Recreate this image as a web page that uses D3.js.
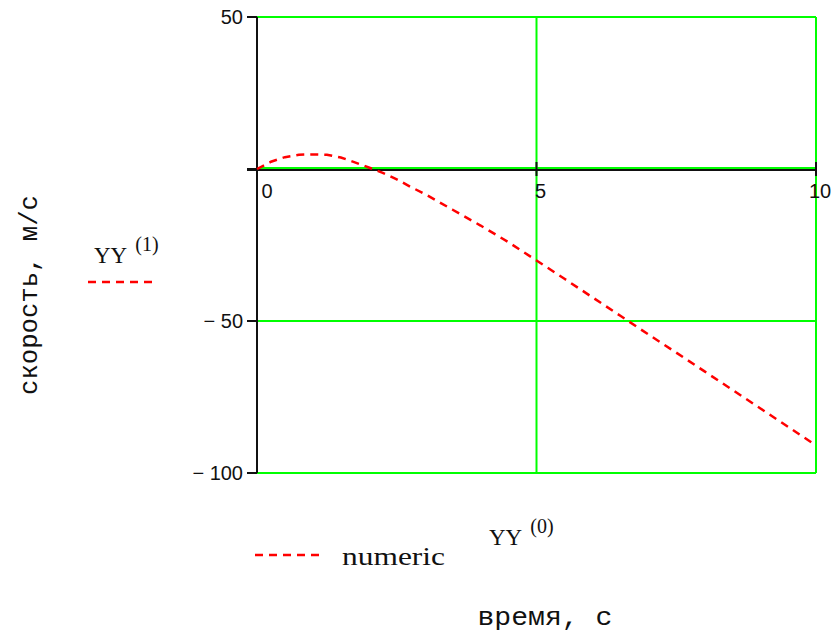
<!DOCTYPE html>
<html>
<head>
<meta charset="utf-8">
<script src="https://cdn.jsdelivr.net/npm/d3@7"></script>
<style>
  body { margin: 0; background: #fff; }
  svg { display: block; }
</style>
</head>
<body>
<svg id="chart" width="833" height="632"></svg>
<script>
// Data: time (s) and velocity (m/s)
const timeVals = [0, 0.25, 0.5, 0.75, 1.0, 1.25, 1.5, 1.75, 2.0, 2.25, 2.5, 2.75, 3.0,
  3.5, 4.0, 4.5, 5.0, 5.5, 6.0, 6.5, 7.0, 7.5, 8.0, 8.5, 9.0, 9.5, 10.0];
const speedVals = [0, 2.4, 3.9, 4.7, 4.8, 4.7, 3.8, 2.2, 0.5, -1.3, -3.4, -5.9, -8.2,
  -13.4, -18.6, -24.1, -30.1, -36.1, -42.2, -48.3, -54.4, -60.4, -66.5, -72.6, -78.7, -84.8, -90.9];

const xTicks = [0, 5, 10];
const yTicks = [50, 0, -50, -100];
const yTickLabels = ["50", "0", "\u2212 50", "\u2212 100"];

const green = "#00ff00";
const red = "#ff0000";

const svg = d3.select("#chart");

// Scales
const x = d3.scaleLinear().domain([0, 10]).range([257, 816]);
const y = d3.scaleLinear().domain([-100, 50]).range([473, 17]);

// green grid + frame
const grid = svg.append("g").attr("stroke", green).attr("stroke-width", 2);
grid.selectAll(".hgrid")
  .data(yTicks)
  .enter().append("line")
    .attr("x1", x(0)).attr("x2", x(10))
    .attr("y1", d => y(d) - (d === 0 ? 1 : 0))
    .attr("y2", d => y(d) - (d === 0 ? 1 : 0));
grid.selectAll(".vgrid")
  .data(xTicks.filter(d => d !== 0))
  .enter().append("line")
    .attr("x1", d => x(d)).attr("x2", d => x(d))
    .attr("y1", y(50)).attr("y2", y(-100));

// black axes (crossed at zero)
const axes = svg.append("g").attr("stroke", "#111").attr("stroke-width", 2);
axes.append("line")
  .attr("x1", x(0)).attr("x2", x(0))
  .attr("y1", y(50)).attr("y2", y(-100));
axes.append("line")
  .attr("x1", x(0) - 10).attr("x2", x(10))
  .attr("y1", y(0) + 1).attr("y2", y(0) + 1);

// y ticks, pointing left
axes.selectAll(".ytick")
  .data(yTicks)
  .enter().append("line")
    .attr("x1", x(0) - 10).attr("x2", x(0))
    .attr("y1", d => y(d)).attr("y2", d => y(d));

// x ticks, crossing the axis
axes.selectAll(".xtick")
  .data(xTicks.filter(d => d !== 0))
  .enter().append("line")
    .attr("x1", d => x(d)).attr("x2", d => x(d))
    .attr("y1", y(0) - 7).attr("y2", y(0) + 7);

// tick labels
svg.selectAll(".ylabel")
  .data(yTicks)
  .enter().append("text")
    .attr("x", 243)
    .attr("y", d => y(d) + 7)
    .attr("text-anchor", "end")
    .attr("font-family", "Liberation Sans, Arial, sans-serif")
    .attr("font-size", 20)
    .attr("fill", "#111")
    .text((d, i) => d === 0 ? "" : yTickLabels[i]);

svg.selectAll(".xlabel")
  .data(xTicks)
  .enter().append("text")
    .attr("x", d => x(d) + (d === 0 ? 10 : 4))
    .attr("y", 198)
    .attr("text-anchor", "middle")
    .attr("font-family", "Liberation Sans, Arial, sans-serif")
    .attr("font-size", 20)
    .attr("fill", "#111")
    .text(d => d);

// the curve
const line = d3.line()
  .x((d, i) => x(timeVals[i]))
  .y(d => y(d));

svg.append("path")
  .datum(speedVals)
  .attr("fill", "none")
  .attr("stroke", red)
  .attr("stroke-width", 2.5)
  .attr("stroke-dasharray", "8,6")
  .attr("d", line);

// axis titles (Courier-like font)
svg.append("text")
  .attr("transform", "translate(37,295) rotate(-90)")
  .attr("text-anchor", "middle")
  .attr("font-family", "Liberation Mono, Courier New, monospace")
  .attr("font-size", 25)
  .attr("textLength", 200)
  .attr("lengthAdjust", "spacingAndGlyphs")
  .attr("fill", "#111")
  .text("скорость, м/с");

svg.append("text")
  .attr("x", 545)
  .attr("y", 625)
  .attr("text-anchor", "middle")
  .attr("font-family", "Liberation Mono, Courier New, monospace")
  .attr("font-size", 26)
  .attr("textLength", 135)
  .attr("lengthAdjust", "spacingAndGlyphs")
  .attr("fill", "#111")
  .text("время, с");

// trace names (YY^(1) on the left, YY^(0) below)
function traceName(tx, ty, idx) {
  const t = svg.append("text")
    .attr("x", tx).attr("y", ty)
    .attr("font-family", "Liberation Serif, Times New Roman, serif")
    .attr("fill", "#111");
  t.append("tspan").attr("font-size", 23).text("YY");
  t.append("tspan").attr("font-size", 20).attr("dx", 8).attr("dy", -12).text("(" + idx + ")");
}
traceName(94, 263, 1);
traceName(489, 545, 0);

// legend dashes
svg.append("line")
  .attr("x1", 88).attr("x2", 152).attr("y1", 282).attr("y2", 282)
  .attr("stroke", red).attr("stroke-width", 2.5).attr("stroke-dasharray", "8,6");
svg.append("line")
  .attr("x1", 255).attr("x2", 319).attr("y1", 555).attr("y2", 555)
  .attr("stroke", red).attr("stroke-width", 2.5).attr("stroke-dasharray", "8,6");

svg.append("text")
  .attr("x", 342).attr("y", 565)
  .attr("font-family", "Liberation Serif, Times New Roman, serif")
  .attr("font-size", 26)
  .attr("textLength", 103)
  .attr("lengthAdjust", "spacingAndGlyphs")
  .attr("fill", "#111")
  .text("numeric");
</script>
</body>
</html>
